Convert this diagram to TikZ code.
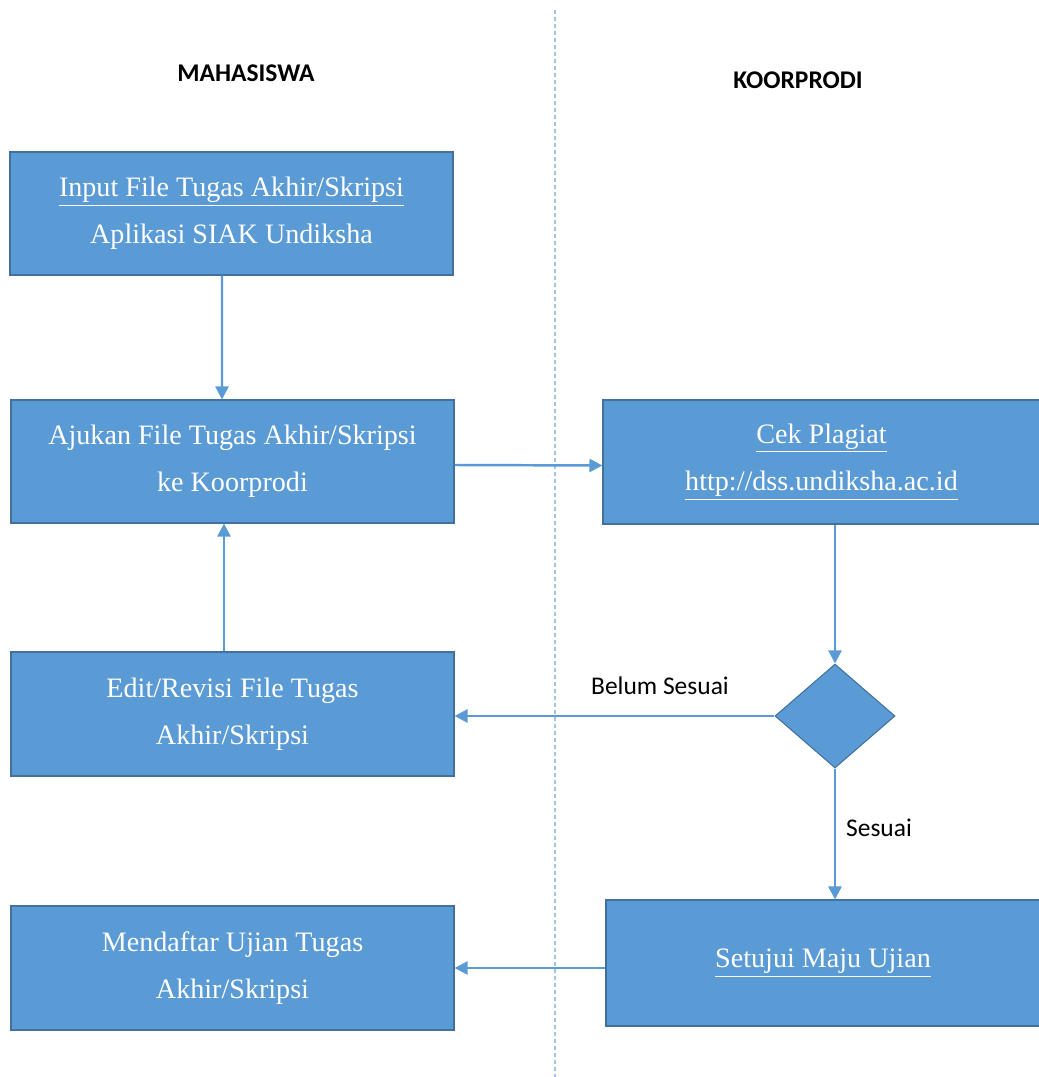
\documentclass[tikz,border=0pt]{standalone}
\usepackage{fontspec}
\setmainfont{Liberation Serif}
\newfontfamily\labelfont{Carlito}
\usetikzlibrary{shapes.geometric,arrows.meta}
\definecolor{boxblue}{HTML}{5B9BD5}
\definecolor{boxedge}{HTML}{41719C}
\definecolor{laneblue}{HTML}{9DC3E6}
\begin{document}
\begin{tikzpicture}
    [box/.style = {rectangle, draw=boxedge, fill=boxblue, line width=0.6pt,
                   text=white, align=center, font=\fontsize{16}{27}\selectfont,
                   minimum width=8.86cm, minimum height=2.46cm},
     decide/.style = {diamond, draw=boxedge, fill=boxblue, line width=0.6pt,
                      inner sep=0pt, minimum width=2.4cm, minimum height=2.08cm},
     flow/.style = {draw=boxblue, line width=1.4pt,
                    -{Triangle[length=0.26cm,width=0.26cm]}},
     lane/.style = {font=\labelfont\fontsize{14.5}{17}\selectfont}]
    \useasboundingbox (0,0) rectangle (20.76,-21.54);
    % Garis pemisah
    \draw[laneblue, line width=0.8pt, dash pattern=on 0.08cm off 0.06cm] (11.1,-0.2) -- (11.1,-21.54);
    % Judul kolom
    \node[lane, font=\labelfont\bfseries\fontsize{14.5}{17}\selectfont] (mhs) at (4.92,-1.46) {MAHASISWA};
    \node[lane, font=\labelfont\bfseries\fontsize{14.5}{17}\selectfont] (koor) at (15.96,-1.6) {KOORPRODI};
    % Mahasiswa
    \node[box] (in) at (4.63,-4.27) {\underline{Input File Tugas Akhir/Skripsi}\\Aplikasi SIAK Undiksha};
    \node[box] (aj) at (4.65,-9.23) {Ajukan File Tugas Akhir/Skripsi\\ke Koorprodi};
    \node[box, minimum height=2.48cm] (ed) at (4.65,-14.28) {Edit/Revisi File Tugas\\Akhir/Skripsi};
    \node[box, minimum height=2.48cm] (md) at (4.65,-19.36) {Mendaftar Ujian Tugas\\Akhir/Skripsi};
    % Koorprodi
    \node[box, minimum width=8.74cm, minimum height=2.48cm] (cek) at (16.43,-9.24) {\underline{Cek Plagiat}\\\underline{http://dss.undiksha.ac.id}};
    \node[decide] (dm) at (16.7,-14.32) {};
    \node[box, minimum width=8.68cm, minimum height=2.52cm] (st) at (16.46,-19.26) {\underline{Setujui Maju Ujian}};
    % Alur
    \draw[flow] ([xshift=-0.19cm]in.south) -- ([xshift=-0.21cm]aj.north);
    \draw[flow] ([yshift=-0.07cm]aj.east) -- ([yshift=-0.07cm]cek.west);
    \draw[flow] (dm |- cek.south) -- (dm.north);
    \draw[flow] (dm.west) -- (dm.west -| ed.east);
    \draw[flow] ([xshift=-0.17cm]ed.north) -- ([xshift=-0.17cm]aj.south);
    \draw[flow] (dm.south) -- (dm |- st.north);
    \draw[flow] (st.west |- md) -- (md.east);
    % Keterangan
    \node[lane] (bs) at (13.2,-13.72) {Belum Sesuai};
    \node[lane] (ss) at (17.58,-16.56) {Sesuai};
\end{tikzpicture}
\end{document}
